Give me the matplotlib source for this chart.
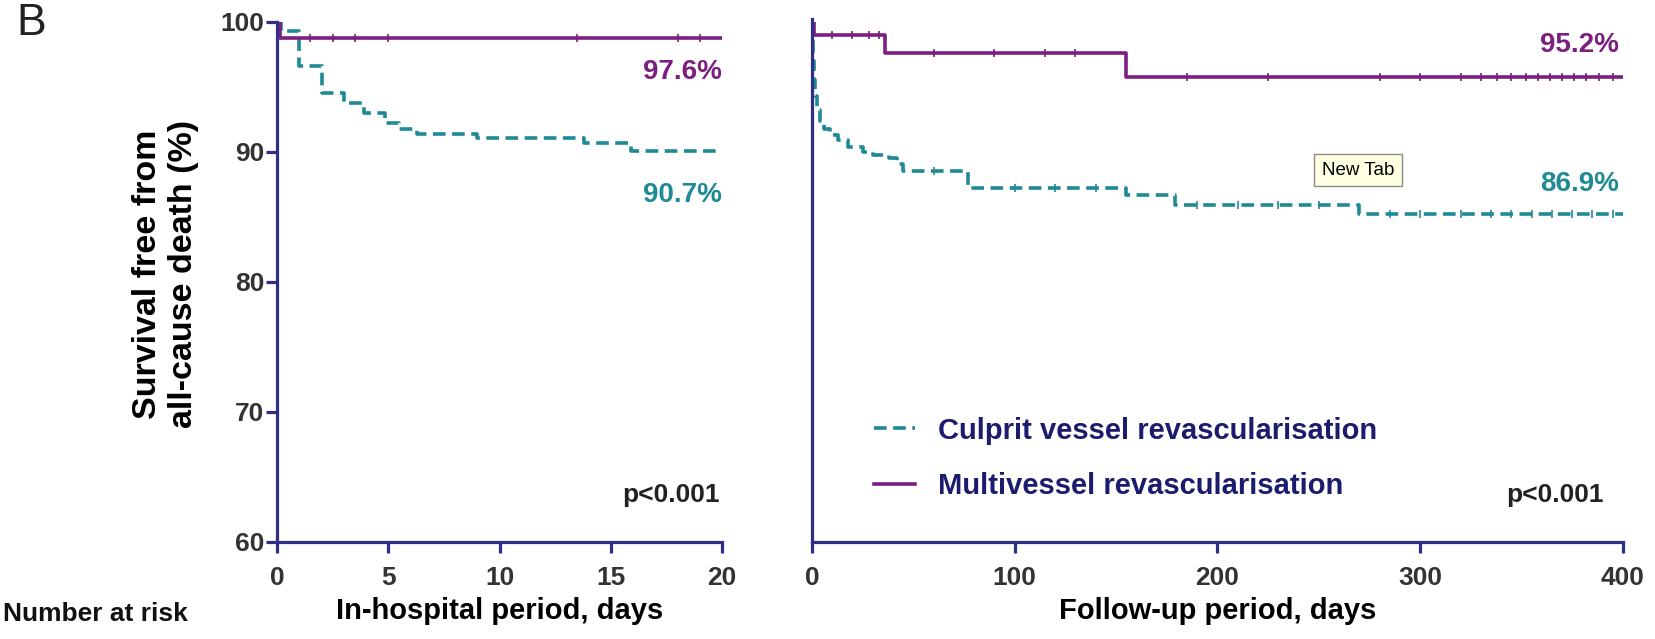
import matplotlib.pyplot as plt

plt.rcParams['font.family'] = ['Liberation Sans', 'DejaVu Sans']

# In-hospital period (days) - step curves
hosp_cvr_days = [0, 0.2, 1.0, 2.0, 3.0, 3.9, 4.85, 5.5, 6.3, 9.0, 13.8, 15.9, 20]
hosp_cvr_surv = [100, 99.3, 96.6, 94.5, 93.8, 93.0, 92.2, 91.8, 91.4, 91.05, 90.7, 90.05, 90.05]
hosp_mvr_days = [0, 0.15, 20]
hosp_mvr_surv = [100, 98.8, 98.8]

# Follow-up period (days)
fu_cvr_days = [0, 0.3, 0.6, 1, 1.5, 2.5, 4, 6, 9, 13, 18, 25, 30, 38, 42, 45, 77, 155, 179, 270, 400]
fu_cvr_surv = [100, 98.5, 97.0, 95.5, 94.3, 93.2, 92.4, 91.8, 91.3, 90.9, 90.4, 90.0, 89.8, 89.5, 89.1,
               88.5, 87.2, 86.7, 85.9, 85.2, 85.2]
fu_mvr_days = [0, 1, 36, 155, 400]
fu_mvr_surv = [100, 99.0, 97.6, 95.8, 95.8]

# censoring marks (approx.)
hosp_mvr_cens = [1.5, 2.5, 3.5, 5, 13.5, 18, 19]
fu_mvr_cens = [10, 20, 28, 33, 60, 90, 115, 130, 185, 225, 280, 300, 320, 330, 338, 345, 352, 358,
               364, 370, 376, 382, 388, 395]
fu_cvr_cens = [60, 100, 120, 140, 190, 210, 230, 250, 285, 300, 320, 335, 345, 355, 365, 375, 385, 395]

labels = ['Culprit vessel revascularisation', 'Multivessel revascularisation']

purple = '#7b1f80'
teal = '#1f8a96'
navy = '#2f3085'
tick_col = '#333333'

fig = plt.figure(figsize=(16.56, 6.39), dpi=100)
ax1 = fig.add_axes([0.1673, 0.1518, 0.2687, 0.8138])
ax2 = fig.add_axes([0.4903, 0.1518, 0.4897, 0.8138])

dash = (0, (3.5, 1.8))

# left panel
ax1.step(hosp_cvr_days, hosp_cvr_surv, where='post', color=teal, lw=2.6, linestyle=dash)
ax1.step(hosp_mvr_days, hosp_mvr_surv, where='post', color=purple, lw=2.6)
ax1.plot(hosp_mvr_cens, [98.8] * len(hosp_mvr_cens), ls='none', marker='|', ms=6, mew=1.2, color=purple)
ax1.set_xlim(0, 20)
ax1.set_ylim(60, 100)
ax1.set_xticks([0, 5, 10, 15, 20])
ax1.set_yticks([60, 70, 80, 90, 100])

# right panel
ax2.step(fu_cvr_days, fu_cvr_surv, where='post', color=teal, lw=2.6, linestyle=dash, label=labels[0])
ax2.step(fu_mvr_days, fu_mvr_surv, where='post', color=purple, lw=2.6, label=labels[1])


def surv_at(days, surv, t):
    v = surv[0]
    for d, s in zip(days, surv):
        if d <= t:
            v = s
    return v


ax2.plot(fu_mvr_cens, [surv_at(fu_mvr_days, fu_mvr_surv, t) for t in fu_mvr_cens],
         ls='none', marker='|', ms=6, mew=1.2, color=purple)
ax2.plot(fu_cvr_cens, [surv_at(fu_cvr_days, fu_cvr_surv, t) for t in fu_cvr_cens],
         ls='none', marker='|', ms=6, mew=1.2, color=teal)
ax2.set_xlim(0, 400)
ax2.set_ylim(60, 100)
ax2.set_xticks([0, 100, 200, 300, 400])
ax2.set_yticks([])

for ax in (ax1, ax2):
    for s in ('top', 'right'):
        ax.spines[s].set_visible(False)
    for s in ('left', 'bottom'):
        ax.spines[s].set_color(navy)
        ax.spines[s].set_linewidth(2.3)
    ax.tick_params(colors=navy, width=2.3, length=8, labelcolor=tick_col, labelsize=19)
    ax.tick_params(axis='x', pad=9)
    ax.tick_params(axis='y', pad=1)
    for lab in ax.get_xticklabels() + ax.get_yticklabels():
        lab.set_fontweight('bold')

# let the right y axis reach a little above 100, as in the original
ax2.spines['left'].set_bounds(60, 100.2)

ax1.set_ylabel('Survival free from\nall-cause death (%)', fontsize=24.5, fontweight='bold', labelpad=19,
               linespacing=1.2)
ax1.yaxis.set_label_coords(-0.175, 0.515)
ax1.set_xlabel('In-hospital period, days', fontsize=21, fontweight='bold', labelpad=5)
ax2.set_xlabel('Follow-up period, days', fontsize=21, fontweight='bold', labelpad=5)

# annotations
ax1.text(20, 96.15, '97.6%', color=purple, fontsize=20, fontweight='bold', ha='right', va='center')
ax1.text(20, 86.7, '90.7%', color=teal, fontsize=20, fontweight='bold', ha='right', va='center')
ax1.text(19.9, 63.6, 'p<0.001', color='#222222', fontsize=19, fontweight='bold', ha='right', va='center')
ax2.text(398, 98.2, '95.2%', color=purple, fontsize=20, fontweight='bold', ha='right', va='center')
ax2.text(398, 87.5, '86.9%', color=teal, fontsize=20, fontweight='bold', ha='right', va='center')
ax2.text(390.6, 63.6, 'p<0.001', color='#222222', fontsize=19, fontweight='bold', ha='right', va='center')

leg = ax2.legend(loc='lower left', bbox_to_anchor=(0.0765, 0.08), frameon=False, fontsize=21,
                 handlelength=1.4, handletextpad=0.8, labelspacing=0.95, borderpad=0, borderaxespad=0)
for t in leg.get_texts():
    t.set_color('#1c1c6e')
    t.set_fontweight('bold')

fig.text(0.01, 0.995, 'B', fontsize=32, ha='left', va='top', color='#222222')
fig.text(0.002, 1 - 614 / 639, 'Number at risk', fontsize=19, fontweight='bold', ha='left', va='center',
         color='#111111')
fig.text(1358 / 1656, 1 - 170 / 639, 'New Tab', fontsize=13.5, ha='center', va='center', color='black',
         bbox=dict(boxstyle='square,pad=0.4', facecolor='#ffffe1', edgecolor='#8a8a8a', lw=1))

fig.savefig('out.png', dpi=100)
